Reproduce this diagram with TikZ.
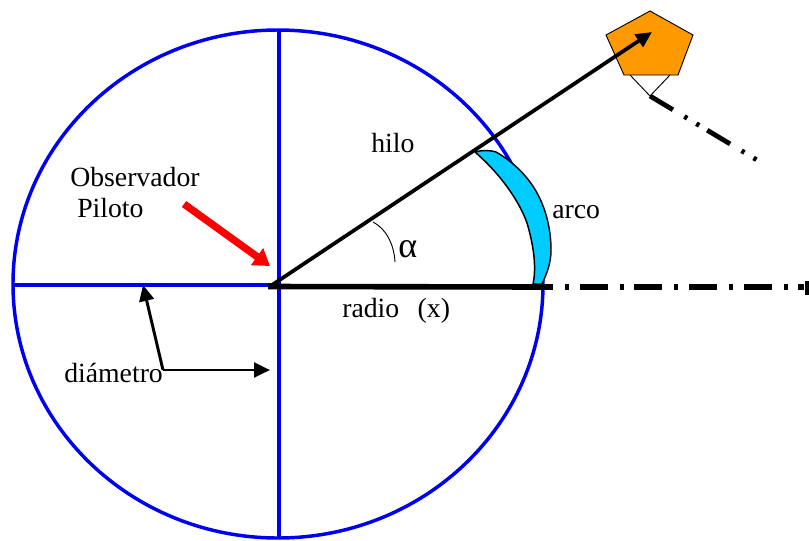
\documentclass[tikz,border=0pt]{standalone}
\usepackage{fontspec}
\setmainfont{Liberation Serif}
\usetikzlibrary{arrows.meta}
\definecolor{bluec}{RGB}{0,0,240}
\definecolor{cyanc}{RGB}{0,204,255}
\definecolor{orangec}{RGB}{255,153,0}
\tikzset{
  circ/.style={draw=bluec,line width=2.6pt},
  blk/.style={draw=black,line width=4.2pt},
  arr/.style={draw=black,line width=2.8pt,-{Triangle[length=12pt,width=11pt]}},
  thin line/.style={draw=black,line width=0.7pt},
  lbl/.style={inner sep=0pt,anchor=base west,font=\fontsize{20.8pt}{24pt}\selectfont},
  ddh/.style={draw=black,line width=4.2pt,dash pattern=on 21pt off 9pt on 3pt off 8pt,dash phase=15pt},
  ddo/.style={draw=black,line width=3.6pt,dash pattern=on 20pt off 10pt on 2.5pt off 8pt on 2.5pt off 7pt}
}
\begin{document}
\begin{tikzpicture}[x=0.75pt,y=-0.75pt]
\useasboundingbox (0,0) rectangle (809,540);
% circle and diameters
\draw[circ] (278,284) ellipse [x radius=265,y radius=254];
\coordinate (L) at (13,285);
\coordinate (O) at (278,285);
\coordinate (T) at (279,30);
\coordinate (B) at (279,538);
\draw[circ] (L) -- (O);
\draw[circ] (T) -- (B);
% crescent
\draw[thin line,line width=1.1pt,fill=cyanc,line join=round] (475,152) .. controls (482,150) and (490,150) .. (496,152)
  .. controls (510,160) and (522,171) .. (530,182)
  .. controls (542,198) and (551,222) .. (551,250)
  .. controls (551,263) and (547,273) .. (542,284)
  -- (533,284)
  .. controls (536,270) and (535,250) .. (527,223)
  .. controls (518,198) and (498,172) .. (475,152) -- cycle;
% pentagon
\draw[thin line,fill=orangec] (650,11) coordinate (p1) -- (693,35) -- (678,75) coordinate (p3) -- (624,75) coordinate (p4) -- (606,35) -- cycle;
\coordinate (apex) at (650,96);
\draw[thin line] (630,75) -- (apex) -- (670,75);
% lines
\coordinate (Oh) at (272,285);
\coordinate (tip) at (652,32);
\draw[arr] (Oh) -- (tip);
\coordinate (Rend) at (545,287);
\coordinate (Far) at (804,287);
\draw[blk] (268,286.5) -- (Rend);
\draw[ddh] (Rend) -- (Far);
\draw[black,line width=2.5pt] (807,281) -- (807,295);
\draw[ddo] (apex) -- (757,160);
% alpha arc
\coordinate (a1) at (373,222);
\coordinate (a2) at (395,262);
\draw[thin line] (a1) .. controls (385,228) and (394,243) .. (a2);
% red arrow
\coordinate (r1) at (184,204);
\coordinate (r2) at (270,266);
\draw[red,line width=5.5pt,-{Triangle[length=12pt,width=15pt]}] (r1) -- (r2);
% diametro arrows
\coordinate (dm) at (163,370);
\draw[arr,line width=2.2pt] (dm) -- (143,285);
\draw[arr,line width=2.2pt] (dm) -- (270,370);
% labels
\node[lbl] (n1) at (70,186) {Observador};
\node[lbl] (n2) at (77,217) {Piloto};
\node[lbl] (n3) at (371,152) {hilo};
\node[lbl] (n4) at (552,218) {arco};
\node[lbl] (n5) at (342,317) {radio\ \ \,(x)};
\node[lbl] (n6) at (64,382) {diámetro};
\node[lbl,font=\fontsize{27pt}{28pt}\selectfont] (n7) at (398,257) {α};
\end{tikzpicture}
\end{document}
